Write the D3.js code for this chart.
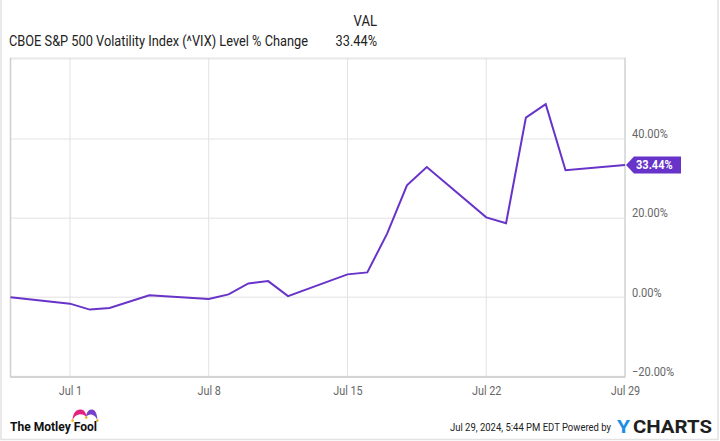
<!DOCTYPE html>
<html><head><meta charset="utf-8">
<script src="https://cdn.jsdelivr.net/npm/d3@7"></script>
<style>
html,body{margin:0;padding:0;background:#fff;}
text{font-family:Roboto,"Open Sans",sans-serif;}
</style></head>
<body>
<svg id="c" width="720" height="441"></svg>
<script>
const dates = ["2024-06-28","2024-07-01","2024-07-02","2024-07-03","2024-07-05","2024-07-08","2024-07-09","2024-07-10","2024-07-11","2024-07-12","2024-07-15","2024-07-16","2024-07-17","2024-07-18","2024-07-19","2024-07-22","2024-07-23","2024-07-24","2024-07-25","2024-07-26","2024-07-29"];
const values = [0, -1.6, -3.1, -2.7, 0.5, -0.4, 0.75, 3.5, 4.1, 0.3, 5.8, 6.3, 16.1, 28.3, 32.9, 20.2, 18.7, 45.4, 48.8, 32.1, 33.44];
const xTicks = ["2024-07-01","2024-07-08","2024-07-15","2024-07-22","2024-07-29"];
const yTicks = [-20, 0, 20, 40];
const seriesName = "CBOE S&P 500 Volatility Index (^VIX) Level % Change";
const lastLabel = "33.44%";

const parse = d3.utcParse("%Y-%m-%d");
const svg = d3.select("#c");
const L = 10.5, R = 625, T = 59.8, B = 376.5;
const x = d3.scaleUtc().domain([parse(dates[0]), parse(dates[dates.length-1])]).range([L, R]);
const y = d3.scaleLinear().domain([-20, 60]).range([B, T]);
const purple = "#6733c9";

function condense(sel, f) {
  sel.each(function(){
    const w = this.getComputedTextLength();
    d3.select(this).attr("textLength", w*f).attr("lengthAdjust","spacingAndGlyphs");
  });
}

// outer faint border
svg.append("rect").attr("x",1).attr("y",-5).attr("width",717).attr("height",444.5)
  .attr("fill","none").attr("stroke","#e2e2e2").attr("stroke-width",1.5);

// top rule
svg.append("line").attr("x1",L).attr("x2",R).attr("y1",58.5).attr("y2",58.5).attr("stroke","#e8e8e8").attr("stroke-width",2);

// horizontal gridlines
svg.append("g").selectAll("line").data(yTicks).join("line")
  .attr("x1",L).attr("x2",R).attr("y1",d=>y(d)).attr("y2",d=>y(d))
  .attr("stroke","#ececec").attr("stroke-width",1.5);

// vertical gridlines
svg.append("g").selectAll("line").data(xTicks.map(parse)).join("line")
  .attr("x1",d=>x(d)).attr("x2",d=>x(d)).attr("y1",T-2).attr("y2",B)
  .attr("stroke","#e2e2e2").attr("stroke-width",1);

// axes borders
svg.append("line").attr("x1",L).attr("x2",L).attr("y1",T-2).attr("y2",B+1).attr("stroke","#cfcfcf").attr("stroke-width",1.5);
svg.append("line").attr("x1",L).attr("x2",R).attr("y1",B+0.5).attr("y2",B+0.5).attr("stroke","#d4d4d4").attr("stroke-width",2);
svg.append("line").attr("x1",R).attr("x2",R).attr("y1",T-2).attr("y2",B+1).attr("stroke","#c8c8c8").attr("stroke-width",1);

// x axis labels
const xAxis = d3.axisBottom(x).tickValues(xTicks.map(parse)).tickFormat(d3.utcFormat("%b %-d")).tickSize(0).tickPadding(10);
const gx = svg.append("g").attr("transform",`translate(0,${B})`).call(xAxis);
gx.select(".domain").remove();
gx.selectAll("text").attr("fill","#666").attr("font-size",12).attr("font-family","Roboto");
condense(gx.selectAll("text"), 0.9);

// y axis labels
const yAxis = d3.axisRight(y).tickValues(yTicks).tickFormat(d=>d3.format(".2f")(d)+"%").tickSize(0).tickPadding(7);
const gy = svg.append("g").attr("transform",`translate(${R},0)`).call(yAxis);
gy.select(".domain").remove();
gy.selectAll("text").attr("fill","#666").attr("font-size",12).attr("font-family","Roboto").attr("dy","-0.1em");
condense(gy.selectAll("text"), 0.92);

// line
const pts = dates.map((d,i)=>({d:parse(d), v:values[i]}));
svg.append("path").datum(pts)
  .attr("d", d3.line().x(p=>x(p.d)).y(p=>y(p.v)))
  .attr("fill","none").attr("stroke",purple).attr("stroke-width",2).attr("stroke-linejoin","miter");

// last value label
const ly = y(values[values.length-1]);
const lx = R + 1;
svg.append("path")
  .attr("d",`M${lx},${ly} L${lx+8},${ly-8.5} L${lx+55},${ly-8.5} L${lx+55},${ly+8.5} L${lx+8},${ly+8.5} Z`)
  .attr("fill",purple);
const lt = svg.append("text").attr("x",lx+10).attr("y",ly+4.5)
  .attr("fill","#fff").attr("font-size",12).attr("font-weight","bold").text(lastLabel);
condense(lt, 0.92);

// header
const h1 = svg.append("text").attr("x",377).attr("y",26).attr("text-anchor","end").attr("font-size",14.5).attr("fill","#222").text("VAL");
const h2 = svg.append("text").attr("x",9).attr("y",46).attr("font-size",14).attr("fill","#222").text(seriesName)
  .attr("textLength",299).attr("lengthAdjust","spacingAndGlyphs");
const h3 = svg.append("text").attr("x",377).attr("y",46).attr("text-anchor","end").attr("font-size",14.5).attr("fill","#222").text(lastLabel);
condense(h1, 0.9); condense(h3, 0.88);

// footer: Motley Fool logo
svg.append("path").attr("d","M72.5,420 C73,413 76,409.5 80,409.5 C84,409.5 86,412 86.5,417 C84,414.5 81,414 79,414.5 C76,415 74,417 72.5,420 Z").attr("fill","#e4237e");
svg.append("path").attr("d","M86,417 C86.5,412 88.5,409.5 92,409.5 C95,409.5 97,413 97.5,420 C96,417 94,415 91.5,414.5 C89,414.2 87.5,415 86,417 Z").attr("fill","#7a3fc8");
svg.append("g").selectAll("circle").data([[72.6,420.6],[86.2,417.6],[97.4,420.6]]).join("circle")
  .attr("cx",d=>d[0]).attr("cy",d=>d[1]).attr("r",1.3).attr("fill","#f4b324");
svg.append("text").attr("x",10).attr("y",431).attr("font-size",12.5).attr("font-weight","bold")
  .attr("font-family","Inter, 'Noto Sans', sans-serif").attr("fill","#111")
  .attr("textLength",87).attr("lengthAdjust","spacingAndGlyphs").text("The Motley Fool");

// footer right
svg.append("text").attr("transform","translate(450,431) scale(1,1.12)").attr("font-size",9.8).attr("fill","#222")
  .attr("textLength",161).attr("lengthAdjust","spacingAndGlyphs").text("Jul 29, 2024, 5:44 PM EDT Powered by");
svg.append("text").attr("x",617).attr("y",433.3).attr("font-size",17.5).attr("font-weight","bold")
  .attr("font-family","'Open Sans', Roboto, sans-serif").attr("fill","#1b8fe4")
  .attr("textLength",13).attr("lengthAdjust","spacingAndGlyphs").text("Y");
svg.append("text").attr("x",633).attr("y",433.3).attr("font-size",17.5).attr("font-weight","bold")
  .attr("font-family","'Open Sans', Roboto, sans-serif").attr("fill","#1f1f1f")
  .attr("textLength",79).attr("lengthAdjust","spacingAndGlyphs").text("CHARTS");
</script>
</body></html>
